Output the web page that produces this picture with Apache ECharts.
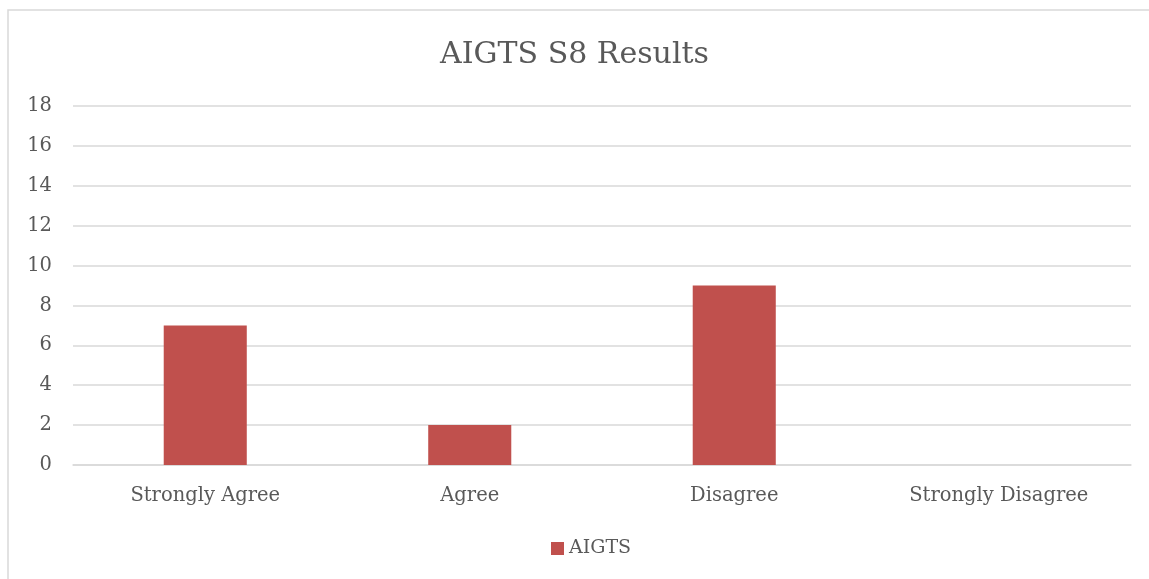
<!DOCTYPE html>
<html>
<head>
<meta charset="utf-8">
<script src="https://cdn.jsdelivr.net/npm/echarts@6/dist/echarts.min.js"></script>
<style>
html,body{margin:0;padding:0;background:#fff;}
#chart{width:1149px;height:579px;}
</style>
</head>
<body>
<div id="chart"></div>
<script>
const categories = ['Strongly Agree', 'Agree', 'Disagree', 'Strongly Disagree'];
const seriesName = 'AIGTS';
const values = [7, 2, 9, 0];
const titleText = 'AIGTS S8 Results';

const FONT = '"DejaVu Serif", serif';
const chart = echarts.init(document.getElementById('chart'), null, {renderer: 'canvas'});
chart.setOption({
  animation: false,
  backgroundColor: '#ffffff',
  graphic: [{
    type: 'rect',
    shape: {x: 8, y: 10, width: 1160, height: 600},
    style: {fill: 'none', stroke: '#d9d9d9', lineWidth: 1.5},
    silent: true, z: 0
  }],
  title: {
    text: titleText,
    left: 'center',
    top: 35,
    textStyle: {fontFamily: FONT, fontSize: 30, fontWeight: 'normal', color: '#595959'}
  },
  legend: {
    data: [seriesName],
    top: 534,
    left: 546,
    icon: 'rect',
    itemWidth: 13,
    itemHeight: 13,
    itemGap: 6,
    textStyle: {fontFamily: FONT, fontSize: 19, color: '#595959'}
  },
  grid: {left: 73, right: 18, top: 106, bottom: 114, containLabel: false},
  xAxis: {
    type: 'category',
    data: categories,
    axisLine: {show: true, lineStyle: {color: '#d9d9d9', width: 1.5}},
    axisTick: {show: false},
    axisLabel: {fontFamily: FONT, fontSize: 19.5, color: '#595959', margin: 21}
  },
  yAxis: {
    type: 'value',
    min: 0, max: 18, interval: 2,
    axisLine: {show: false},
    axisTick: {show: false},
    splitLine: {lineStyle: {color: '#d9d9d9', width: 1.5}},
    axisLabel: {fontFamily: FONT, fontSize: 19.5, color: '#595959', margin: 21}
  },
  series: [{
    name: seriesName,
    type: 'bar',
    data: values,
    barWidth: '31.4%',
    itemStyle: {color: '#c0504d'}
  }]
});
</script>
</body>
</html>
